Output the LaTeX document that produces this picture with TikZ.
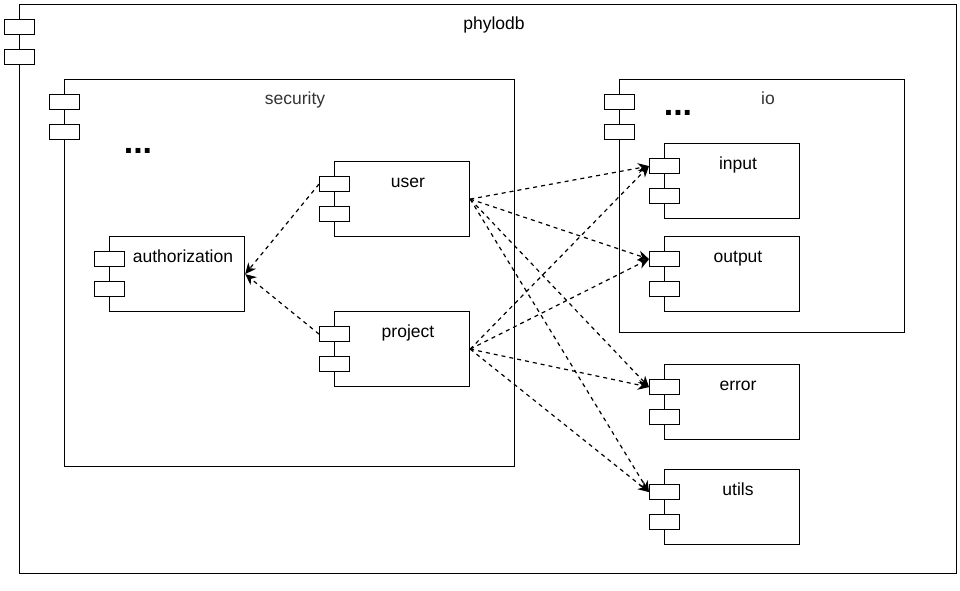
\documentclass[tikz,border=0pt]{standalone}
\usepackage{fontspec}
\setmainfont{Liberation Sans}
\usetikzlibrary{arrows.meta}
\definecolor{lbl}{HTML}{333333}
\tikzset{
  body/.style={draw=black, line width=1.2pt, fill=white, anchor=north west, inner sep=0pt},
  tab/.style={draw=black, line width=1.2pt, fill=white, minimum width=30pt, minimum height=15pt, anchor=north west, inner sep=0pt},
  txt/.style={font=\fontsize{17.5}{20}\selectfont, inner sep=0pt, anchor=base},
  dots/.style={font=\fontsize{34}{36}\selectfont\bfseries, inner sep=0pt},
  dep/.style={draw=black, line width=1.2pt, dash pattern=on 4pt off 4pt, -{Stealth[length=11pt,width=10pt,inset=3.5pt]}},
}
\newcommand{\comp}[5]{% name, x, y, w, h
  \node[body, minimum width=#4pt, minimum height=#5pt] (#1) at (#2,#3) {};
  \node[tab] (#1T1) at ({#2-15},{#3+15}) {};
  \node[tab] (#1T2) at ({#2-15},{#3+45}) {};
}
\begin{document}
\begin{tikzpicture}[x=1pt,y=-1pt]
\useasboundingbox (0,0) rectangle (960,590);
% phylodb
\comp{phylodb}{19}{4}{937}{569}
\node[txt] (phylodbL) at (494,29) {phylodb};
% security
\comp{security}{64}{79}{450}{387}
\node[txt, text=lbl] (securityL) at (295,104) {security};
\node[dots] (secdots) at (138,151) {...};
% io
\comp{io}{619}{79}{285}{253}
\node[txt, text=lbl] (ioL) at (768,104) {io};
\node[dots] (iodots) at (678,113) {...};
% inner components
\comp{user}{334}{161}{135}{75}
\node[txt] (userL) at (408,187) {user};
\comp{auth}{109}{236}{135}{75}
\node[txt] (authL) at (183,262) {authorization};
\comp{project}{334}{311}{135}{75}
\node[txt] (projectL) at (408,337) {project};
\comp{input}{664}{143}{135}{75}
\node[txt] (inputL) at (738,169) {input};
\comp{output}{664}{236}{135}{75}
\node[txt] (outputL) at (738,262) {output};
\comp{error}{664}{364}{135}{75}
\node[txt] (errorL) at (738,390) {error};
\comp{utils}{664}{469}{135}{75}
\node[txt] (utilsL) at (738,495) {utils};
% dependencies
\draw[dep] (userT1.west) -- (auth.east);
\draw[dep] (projectT1.west) -- (auth.east);
\foreach \t in {input,output,error,utils}{
  \draw[dep] (user.east) -- (\t T1.west);
  \draw[dep] (project.east) -- (\t T1.west);
}
\end{tikzpicture}
\end{document}
